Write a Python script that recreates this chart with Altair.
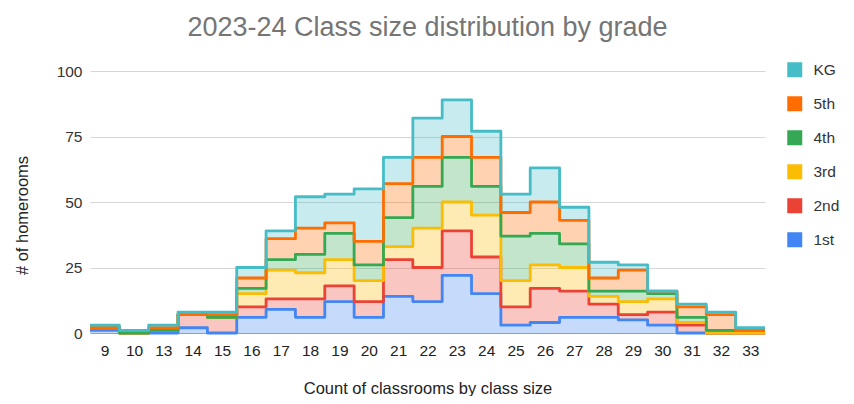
import altair as alt
import pandas as pd

sizes = ["9", "10", "13", "14", "15", "16", "17", "18", "19", "20", "21", "22",
         "23", "24", "25", "26", "27", "28", "29", "30", "31", "32", "33"]
grades = ["1st", "2nd", "3rd", "4th", "5th", "KG"]
first = [1, 0, 0, 2, 0, 6, 9, 6, 12, 6, 14, 12, 22, 15, 3, 4, 6, 6, 5, 3, 0, 0, 0]
second = [1, 0, 1, 5, 6, 4, 4, 7, 6, 6, 14, 13, 17, 14, 7, 13, 10, 5, 2, 5, 3, 0, 0]
third = [0, 0, 0, 0, 0, 5, 11, 10, 10, 8, 5, 15, 11, 16, 10, 9, 9, 3, 5, 5, 1, 0, 0]
fourth = [0, 0, 0, 0, 0, 2, 4, 7, 10, 6, 11, 16, 17, 11, 17, 12, 9, 2, 4, 2, 2, 1, 1]
fifth = [0, 1, 1, 0, 1, 4, 8, 10, 4, 9, 13, 11, 8, 11, 9, 12, 9, 5, 8, 1, 4, 6, 0]
kg = [1, 0, 1, 1, 1, 4, 3, 12, 11, 20, 10, 15, 14, 10, 7, 13, 5, 6, 2, 0, 1, 1, 1]
series = [first, second, third, fourth, fifth, kg]

legend_order = ["KG", "5th", "4th", "3rd", "2nd", "1st"]
colors = ["#46BDC6", "#FF6D01", "#34A853", "#FBBC04", "#EA4335", "#4285F4"]

rows = []
n = len(sizes)
for gi, (g, vals) in enumerate(zip(grades, series)):
    for i, v in enumerate(vals):
        rows.append({"pos": i - 0.5, "grade": g, "order": gi, "value": v})
    rows.append({"pos": n - 0.5, "grade": g, "order": gi, "value": vals[-1]})
df = pd.DataFrame(rows)

label_expr = "[" + ",".join(f"'{s}'" for s in sizes) + "][round(datum.value)]"
FONT = "Liberation Sans"

base = alt.Chart(df).transform_stack(
    stack="value", groupby=["pos"], as_=["y0", "y1"],
    sort=[alt.SortField("order", order="ascending")]
)

xenc = alt.X(
    "pos:Q",
    scale=alt.Scale(domain=[-0.5, n - 0.5], nice=False, zero=False),
    axis=alt.Axis(values=list(range(n)), labelExpr=label_expr, grid=False, ticks=False,
                  labelOverlap=False, domain=True, domainColor="#9e9e9e",
                  labelPadding=10, labelFontSize=15.5,
                  labelColor="#222222", labelFont=FONT,
                  title="Count of classrooms by class size", titleFontSize=16.5,
                  titleFontWeight="normal", titleColor="#222222", titleFont=FONT,
                  titlePadding=22),
)
yenc = alt.Y(
    "y1:Q",
    scale=alt.Scale(domain=[0, 100], nice=False),
    axis=alt.Axis(values=[0, 25, 50, 75, 100], grid=True, gridColor="#d6d6d6", domain=False,
                  ticks=False, labelPadding=8, labelFontSize=15.5, labelColor="#333333",
                  labelFont=FONT, title="# of homerooms", titleFontSize=16.5,
                  titleFontWeight="normal", titleColor="#222222", titleFont=FONT,
                  titlePadding=26, titleY=144),
)
color_scale = alt.Scale(domain=legend_order, range=colors)

area = base.mark_area(interpolate="step-after", opacity=0.3).encode(
    x=xenc,
    y=yenc,
    y2="y0:Q",
    color=alt.Color(
        "grade:N",
        scale=color_scale,
        legend=alt.Legend(orient="none", legendX=697, legendY=-9, title=None,
                          symbolType="square", symbolSize=225, symbolOpacity=1,
                          symbolStrokeWidth=0, labelFontSize=15.5, labelFont=FONT,
                          labelColor="#333333", rowPadding=17, labelOffset=11),
    ),
)

line = base.mark_line(interpolate="step-after", strokeWidth=2.8, strokeJoin="round").encode(
    x=xenc,
    y=yenc,
    color=alt.Color("grade:N", scale=color_scale, legend=None),
)

chart = alt.layer(area, line).properties(
    width=675,
    height=262,
    autosize=alt.AutoSizeParams(type="none"),
    padding={"left": 82, "top": 63, "right": 81, "bottom": 63},
    title=alt.TitleParams("2023-24 Class size distribution by grade", fontSize=27,
                          color="#757575", font=FONT, fontWeight="normal",
                          anchor="middle", offset=20),
).configure_view(stroke=None)

chart.save("out.html", embed_options={"renderer": "svg", "actions": False})
